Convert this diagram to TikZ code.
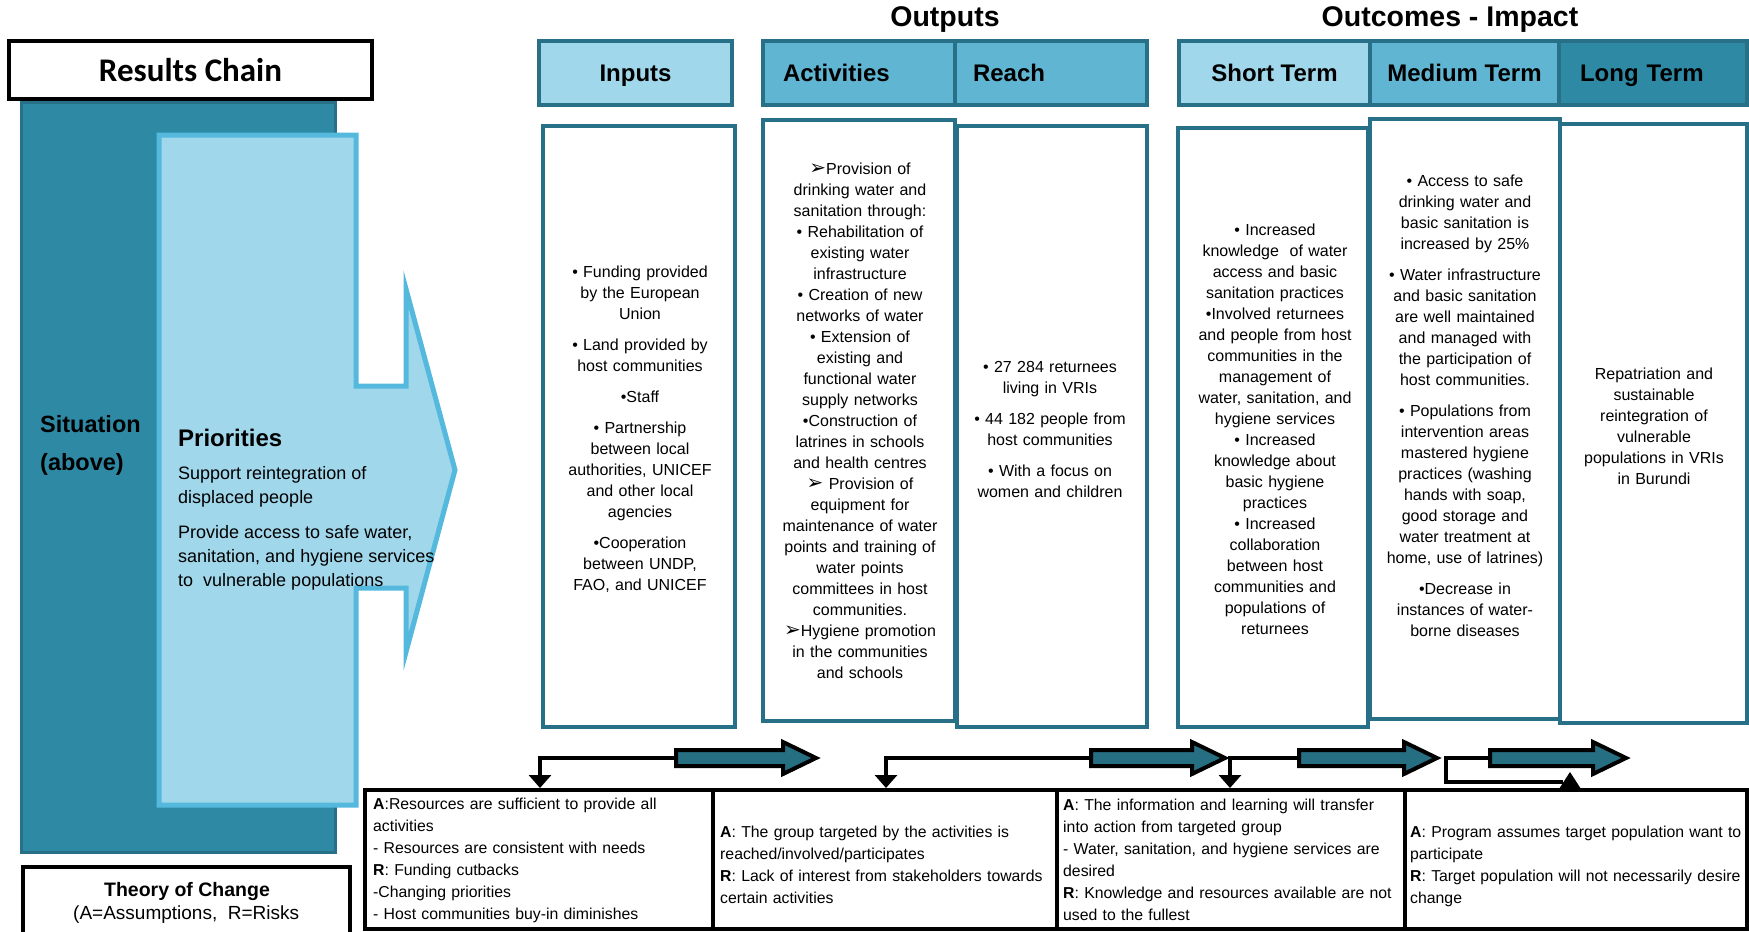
\documentclass[tikz,border=0pt]{standalone}
\usepackage{fontspec}
\setmainfont{Liberation Sans}
\newfontfamily\calibrifont{Carlito}
\newfontfamily\dejavufont{DejaVu Sans}
\usetikzlibrary{arrows.meta}
\definecolor{tealline}{RGB}{40,112,135}
\definecolor{lightfill}{RGB}{160,215,235}
\definecolor{midfill}{RGB}{96,181,210}
\definecolor{darkfill}{RGB}{46,137,165}
\definecolor{prioline}{RGB}{85,185,222}
\definecolor{blockfill}{RGB}{38,110,130}
\newcommand{\arrhead}{{\dejavufont\fontsize{20}{21}\selectfont ➢}}
\begin{document}
\begin{tikzpicture}[x=1pt,y=-1pt,
 hdrbox/.style={draw=tealline,line width=4.5pt,minimum height=64pt,inner sep=0pt,text depth=0pt,font=\fontsize{24}{28}\selectfont\bfseries},
 bodybox/.style={draw=tealline,line width=4.5pt,fill=white,inner sep=0pt},
 coltext/.style={text width=230pt,align=center,inner sep=0pt,font=\fontsize{16}{21}\selectfont},
 tocbox/.style={draw=black,line width=4pt,fill=white,inner sep=0pt,minimum height=139pt},
 toctext/.style={text width=340pt,align=left,inner sep=0pt,anchor=west,font=\fontsize{15.8}{22}\selectfont},
 elbow/.style={draw=black,line width=3.5pt,-{Triangle[width=22pt,length=13pt]}},
 elbowline/.style={draw=black,line width=3.5pt},
 blockarrow/.style={draw=black,line width=4pt,fill=blockfill,line join=miter},
 titletext/.style={font=\fontsize{28.5}{32}\selectfont\bfseries,inner sep=0pt},
]
\useasboundingbox (0,0) rectangle (1749,932);

% ---- left side
\node[draw=tealline,line width=3pt,fill=darkfill,minimum width=314pt,minimum height=750pt] (sit) at (178,477) {};
\draw[prioline,line width=5pt,fill=lightfill,line join=miter]
  (159,135) -- (356,135) -- (356,386) -- (406,386) -- (406,289) -- (455,470)
  -- (406,652) -- (406,588) -- (356,588) -- (356,805) -- (159,805) -- cycle;
\node[anchor=west,font=\fontsize{23.5}{26}\selectfont\bfseries,inner sep=0pt] (sitT) at (40,424) {Situation};
\node[anchor=west,font=\fontsize{23.5}{26}\selectfont\bfseries,inner sep=0pt] (abvT) at (40,464) {(above)};
\node[anchor=west,font=\fontsize{24}{28}\selectfont\bfseries,inner sep=0pt] (prioT) at (178,438) {Priorities};
\node[anchor=north west,align=left,font=\fontsize{18}{24}\selectfont,inner sep=0pt] (prioB) at (178,466)
  {Support reintegration of\\displaced people\\[11pt]Provide access to safe water,\\sanitation, and hygiene services\\to\ \ vulnerable populations};

\node[draw=black,line width=3.5pt,fill=white,minimum width=363pt,minimum height=58pt,inner sep=0pt,
  font=\calibrifont\fontsize{33}{36}\selectfont\bfseries] (rc) at (190.5,70) {Results Chain};

\node[draw=black,line width=4pt,fill=white,minimum width=327pt,minimum height=80pt] (theory) at (186.5,907) {};
\node[font=\fontsize{19.5}{22}\selectfont\bfseries,inner sep=0pt] (thT) at (187,891) {Theory of Change};
\node[anchor=west,font=\fontsize{19}{21}\selectfont,inner sep=0pt] (thS) at (73,915) {(A=Assumptions,\ \ R=Risks};

% ---- titles
\node[titletext] (outputsT) at (945,20) {Outputs};
\node[titletext] (outcomesT) at (1450,20) {Outcomes - Impact};

% ---- headers
\node[hdrbox,fill=lightfill,minimum width=193pt] (inputsH) at (635.5,73) {Inputs};
\node[hdrbox,fill=midfill,minimum width=192pt,text width=152pt,align=left] (actH) at (859,73) {Activities};
\node[hdrbox,fill=midfill,minimum width=192pt,text width=156pt,align=left] (reachH) at (1051,73) {Reach};
\node[hdrbox,fill=lightfill,minimum width=191pt] (shortH) at (1274.5,73) {Short Term};
\node[hdrbox,fill=midfill,minimum width=189pt] (medH) at (1464.5,73) {Medium Term};
\node[hdrbox,fill=darkfill,minimum width=188pt,text width=146pt,align=left] (longH) at (1653,73) {Long Term};

% ---- body boxes
\node[bodybox,minimum width=192pt,minimum height=601pt] (inputsB) at (639,426.5) {};
\node[bodybox,minimum width=190pt,minimum height=601pt] (reachB) at (1052,426.5) {};
\node[bodybox,minimum width=192pt,minimum height=601pt] (actB) at (859,420.5) {};
\node[bodybox,minimum width=190pt,minimum height=599pt] (shortB) at (1273,427.5) {};
\node[bodybox,minimum width=187pt,minimum height=599pt] (longB) at (1653.5,423.5) {};
\node[bodybox,minimum width=190pt,minimum height=600pt] (medB) at (1465,419) {};

\node[coltext] (inputsT) at (640,429) {• Funding provided\\by the European\\Union\\[10pt]• Land provided by\\host communities\\[10pt]•Staff\\[10pt]• Partnership\\between local\\authorities, UNICEF\\and other local\\agencies\\[10pt]•Cooperation\\between UNDP,\\FAO, and UNICEF};

\node[coltext] (actT) at (860,421) {\arrhead Provision of\\drinking water and\\sanitation through:\\• Rehabilitation of\\existing water\\infrastructure\\• Creation of new\\networks of water\\• Extension of\\existing and\\functional water\\supply networks\\•Construction of\\latrines in schools\\and health centres\\\arrhead{} Provision of\\equipment for\\maintenance of water\\points and training of\\water points\\committees in host\\communities.\\\arrhead Hygiene promotion\\in the communities\\and schools};

\node[coltext] (reachT) at (1050,429) {• 27 284 returnees\\living in VRIs\\[10pt]• 44 182 people from\\host communities\\[10pt]• With a focus on\\women and children};

\node[coltext] (shortT) at (1275,429) {• Increased\\knowledge\ \ of water\\access and basic\\sanitation practices\\•Involved returnees\\and people from host\\communities in the\\management of\\water, sanitation, and\\hygiene services\\• Increased\\knowledge about\\basic hygiene\\practices\\• Increased\\collaboration\\between host\\communities and\\populations of\\returnees};

\node[coltext] (medT) at (1465,406) {• Access to safe\\drinking water and\\basic sanitation is\\increased by 25\%\\[10pt]• Water infrastructure\\and basic sanitation\\are well maintained\\and managed with\\the participation of\\host communities.\\[10pt]• Populations from\\intervention areas\\mastered hygiene\\practices (washing\\hands with soap,\\good storage and\\water treatment at\\home, use of latrines)\\[10pt]•Decrease in\\instances of water-\\borne diseases};

\node[coltext] (longT) at (1654,426) {Repatriation and\\sustainable\\reintegration of\\vulnerable\\populations in VRIs\\in Burundi};

% ---- theory of change boxes
\node[tocbox,minimum width=348pt] (toc1) at (539,859.5) {};
\node[tocbox,minimum width=344pt] (toc2) at (885,859.5) {};
\node[tocbox,minimum width=348pt] (toc3) at (1231,859.5) {};
\node[tocbox,minimum width=342pt] (toc4) at (1576,859.5) {};

\node[toctext] (toc1T) at (373,860) {\textbf{A}:Resources are sufficient to provide all\\activities\\- Resources are consistent with needs\\\textbf{R}: Funding cutbacks\\-Changing priorities\\- Host communities buy-in diminishes};
\node[toctext] (toc2T) at (720,865) {\textbf{A}: The group targeted by the activities is\\reached/involved/participates\\\textbf{R}: Lack of interest from stakeholders towards\\certain activities};
\node[toctext] (toc3T) at (1063,860) {\textbf{A}: The information and learning will transfer\\into action from targeted group\\- Water, sanitation, and hygiene services are\\desired\\\textbf{R}: Knowledge and resources available are not\\used to the fullest};
\node[toctext] (toc4T) at (1410,866) {\textbf{A}: Program assumes target population want to\\participate\\\textbf{R}: Target population will not necessarily desire\\change};

% ---- connectors
\coordinate (b1tail) at (676,758);
\coordinate (b2tail) at (1091,758);
\coordinate (b3tail) at (1299,758);
\coordinate (b4tail) at (1490,758);
\coordinate (in1) at (540,788);
\coordinate (in2) at (886,788);
\coordinate (in3) at (1230,788);
\coordinate (e4end) at (1563,782);

\draw[elbow] (b1tail) -| (in1);
\draw[elbow] (b2tail) -| (in2);
\draw[elbow] (b3tail) -| (in3);
\draw[elbowline] (b4tail) -- (1446,758) |- (e4end);
\fill[black] (1559,789) -- (1581,789) -- (1570,772) -- cycle;

\draw[blockarrow] (676,750) -- (783,750) -- (783,742) -- (816,758) -- (783,774) -- (783,766) -- (676,766) -- cycle;
\draw[blockarrow] (1091,750) -- (1192,750) -- (1192,742) -- (1225,758) -- (1192,774) -- (1192,766) -- (1091,766) -- cycle;
\draw[blockarrow] (1299,750) -- (1404,750) -- (1404,742) -- (1437,758) -- (1404,774) -- (1404,766) -- (1299,766) -- cycle;
\draw[blockarrow] (1490,750) -- (1593,750) -- (1593,742) -- (1626,758) -- (1593,774) -- (1593,766) -- (1490,766) -- cycle;
\end{tikzpicture}
\end{document}
